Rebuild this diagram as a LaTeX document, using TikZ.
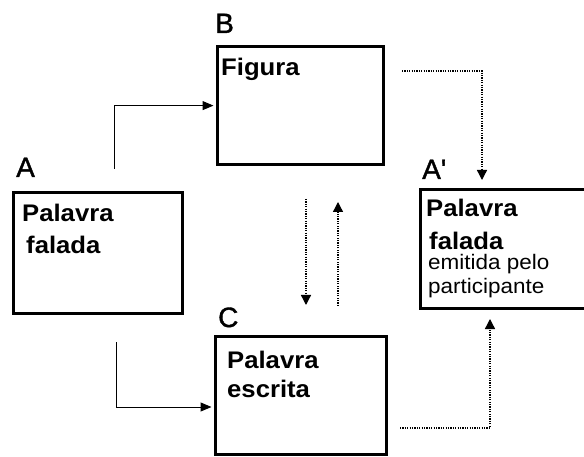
\documentclass[tikz,border=0pt]{standalone}
\usepackage{fontspec}
\setmainfont{Liberation Sans}
\newfontfamily\widefont[FakeStretch=1.07]{Liberation Sans}
\newfontfamily\labelfont[FakeBold=1.3]{Liberation Sans}
\usetikzlibrary{arrows.meta}
\tikzset{
  box/.style={draw, line width=3pt, fill=none, minimum width=#1, inner sep=0pt},
  txt/.style={anchor=base west, inner sep=0pt, font=\widefont\fontsize{24}{28}\selectfont\bfseries},
  small/.style={anchor=base west, inner sep=0pt, font=\widefont\fontsize{21}{25}\selectfont},
  lbl/.style={anchor=base west, inner sep=0pt, font=\labelfont\fontsize{28}{32}\selectfont},
  solidarrow/.style={line width=1pt, -{Triangle[length=11pt,width=9pt]}, shorten >=2pt},
  dotarrow/.style={line width=1.3pt, dash pattern=on 1.2pt off 1.2pt, -{Triangle[length=10pt,width=10pt]}}
}
\begin{document}
\begin{tikzpicture}[x=1pt,y=-1pt]
\useasboundingbox (0,0) rectangle (584,457);
\clip (0,0) rectangle (584,457);
% boxes
\node[box=168.5, minimum height=120] (A) at (97.75,253) {};
\node[box=166.7, minimum height=118.2] (B) at (300.35,105.6) {};
\node[box=171.7, minimum height=118.4] (C) at (300.85,395.5) {};
\node[box=169.3, minimum height=119] (Ap) at (505.35,248.8) {};
% labels
\node[lbl] (lA) at (16,177) {A};
\node[lbl] (lB) at (215,33) {B};
\node[lbl] (lC) at (218,327) {C};
\node[lbl] (lAp) at (422,179) {A\symbol{39}};
% texts
\node[txt] (tA1) at (22,222) {Palavra};
\node[txt] (tA2) at (26,254) {falada};
\node[txt] (tB) at (221,76) {Figura};
\node[txt] (tC1) at (227,368) {Palavra};
\node[txt] (tC2) at (227,397) {escrita};
\node[txt] (tAp1) at (426,217) {Palavra};
\node[txt] (tAp2) at (429,250) {falada};
\node[small] (tAp3) at (428,270) {emitida pelo};
\node[small] (tAp4) at (428,294) {participante};
% free ends
\coordinate (aB) at (114,169);
\coordinate (aC) at (116,342);
\coordinate (d1s) at (306,199);
\coordinate (d1e) at (306,305);
\coordinate (d2s) at (338,306);
\coordinate (d2e) at (338,202);
\coordinate (bs) at (402,71);
\coordinate (be) at (482,180);
\coordinate (cs) at (400,428);
\coordinate (ce) at (490,319);
% connectors
\draw[solidarrow] (aB) |- (B.west);
\draw[solidarrow] (aC) |- ([yshift=-11.5pt]C.west);
\draw[dotarrow] (d1s) -- (d1e);
\draw[dotarrow] (d2s) -- (d2e);
\draw[dotarrow] (bs) -| (be);
\draw[dotarrow] (cs) -| (ce);
\end{tikzpicture}
\end{document}
